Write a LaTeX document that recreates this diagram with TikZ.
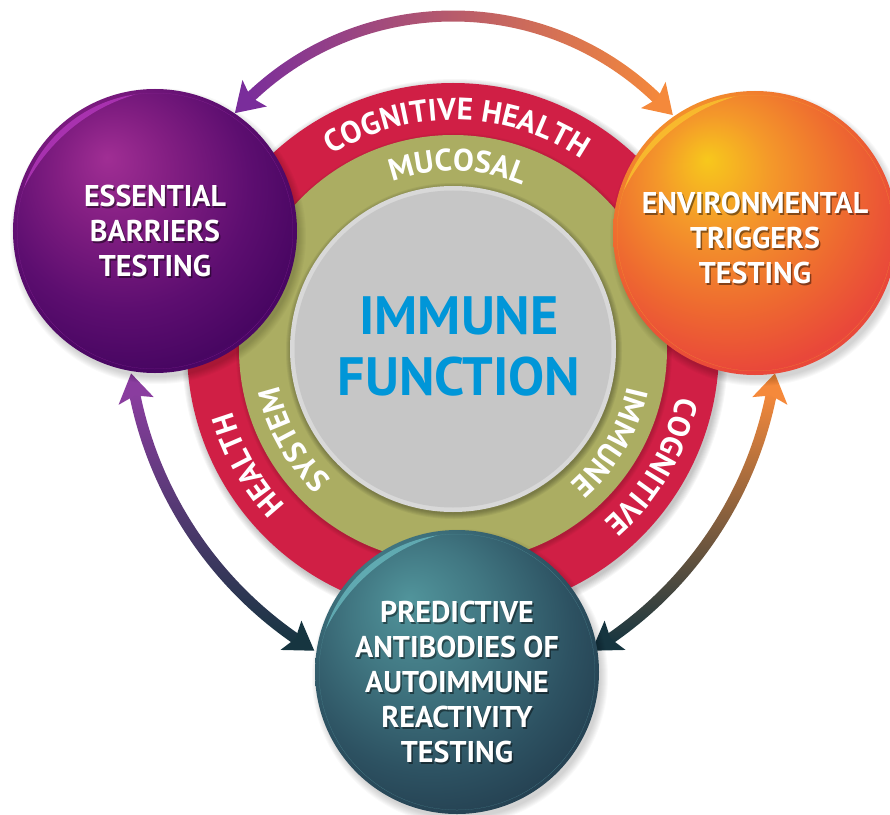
\documentclass[tikz,border=0pt]{standalone}
\usepackage{fontspec}
\newfontfamily\labelfont{PT Sans}
\usetikzlibrary{positioning,decorations.text}

\definecolor{ringred}{HTML}{D01F45}
\definecolor{ringolive}{HTML}{ABAD62}
\definecolor{rimgrey}{HTML}{D8D8D8}
\definecolor{coregrey}{HTML}{C6C6C6}
\definecolor{immuneblue}{HTML}{0096D8}
\definecolor{arrowpurple}{HTML}{7A2D9B}
\definecolor{arroworange}{HTML}{F5893B}
\definecolor{arrowplum}{HTML}{8A3D9F}
\definecolor{arrowdark}{HTML}{163540}
\definecolor{purpleA}{HTML}{A02E94}
\definecolor{purpleB}{HTML}{821E82}
\definecolor{purpleC}{HTML}{5D0E70}
\definecolor{purpleD}{HTML}{480662}
\definecolor{purpleE}{HTML}{5E0C7D}
\definecolor{purpleF}{HTML}{6B1392}
\definecolor{orangeA}{HTML}{F7C81C}
\definecolor{orangeB}{HTML}{F4982A}
\definecolor{orangeC}{HTML}{EE6930}
\definecolor{orangeD}{HTML}{E9473A}
\definecolor{orangeE}{HTML}{EC5838}
\definecolor{orangeF}{HTML}{F5A23C}
\definecolor{tealA}{HTML}{51949B}
\definecolor{tealB}{HTML}{417782}
\definecolor{tealC}{HTML}{2D5262}
\definecolor{tealD}{HTML}{223B4C}
\definecolor{tealE}{HTML}{2A4C62}
\definecolor{purplegloss}{HTML}{B036B8}
\definecolor{orangegloss}{HTML}{F9C02E}
\definecolor{tealgloss}{HTML}{66B3BA}

\pgfdeclareradialshading{purpleball}{\pgfpoint{-8.5bp}{13bp}}{color(0bp)=(purpleA); color(10bp)=(purpleB); color(22bp)=(purpleC); color(31bp)=(purpleD); color(38bp)=(purpleE); color(43bp)=(purpleF); color(60bp)=(purpleF)}
\pgfdeclareradialshading{orangeball}{\pgfpoint{-8.5bp}{13bp}}{color(0bp)=(orangeA); color(10bp)=(orangeB); color(22bp)=(orangeC); color(31bp)=(orangeD); color(37bp)=(orangeE); color(42bp)=(orangeF); color(60bp)=(orangeF)}
\pgfdeclareradialshading{tealball}{\pgfpoint{-8.5bp}{13bp}}{color(0bp)=(tealA); color(12bp)=(tealB); color(25bp)=(tealC); color(35bp)=(tealD); color(42bp)=(tealE); color(60bp)=(tealE)}

\newcommand{\ringfont}{\color{white}\labelfont\bfseries\fontsize{31}{31}\selectfont}

% gradient arc with a head at both ends: centre, radius, start, end, colours, shading
\newcommand{\gradarrow}[7]{%
  \begin{scope}[shift={#1}]
    \pgfmathsetmacro{\hd}{sign(#4-#3)*28/#2*180/pi}
    \pgfmathsetmacro{\bs}{#3+0.7*\hd}
    \pgfmathsetmacro{\be}{#4-0.7*\hd}
    \shade[#7] ({\bs}:{#2+5.5}) arc[start angle=\bs, end angle=\be, radius=#2+5.5]
      -- ({\be}:{#2-5.5}) arc[start angle=\be, end angle=\bs, radius=#2-5.5] -- cycle;
    \fill[#5] (#3:#2) -- ({#3+\hd}:{#2+18}) -- ({#3+0.8*\hd}:#2) -- ({#3+\hd}:{#2-18}) -- cycle;
    \fill[#6] (#4:#2) -- ({#4-\hd}:{#2+18}) -- ({#4-0.8*\hd}:#2) -- ({#4-\hd}:{#2-18}) -- cycle;
  \end{scope}}

\tikzset{
    ball/.style={circle,shade,minimum size=284pt,inner sep=0pt},
    balltext/.style={align=center,text=white,font=\labelfont\bfseries\fontsize{30}{35}\selectfont},
    ballshadow/.style={balltext,text=black,opacity=0.45},
    centretext/.style={align=center,text=immuneblue,font=\labelfont\bfseries\fontsize{54}{61}\selectfont},
    ringtext/.style={decorate,decoration={text along path,text align=center,text={|\ringfont|#1}}}
}

\begin{document}
\begin{tikzpicture}[x=1pt,y=1pt]

    \useasboundingbox (-453,-465) rectangle (437,349);

    % arrows between the three tests
    \gradarrow{(0,39.5)}{293.5}{138}{41.5}{arrowpurple}{arroworange}{left color=arrowpurple,right color=arroworange}
    \gradarrow{(65,32)}{391}{188.3}{238.6}{arrowplum}{arrowdark}{top color=arrowplum,bottom color=arrowdark}
    \gradarrow{(-65,32)}{391}{-8.3}{-58.6}{arroworange}{arrowdark}{top color=arroworange,bottom color=arrowdark}

    % rings
    \foreach \k in {1,...,8}
        \fill[black,opacity=0.03] (2,-3) circle ({265+\k});
    \fill[ringred] (0,0) circle (266);
    \foreach \k in {1,...,5}
        \fill[black,opacity=0.03] (1,-2) circle ({213+\k});
    \fill[ringolive] (0,0) circle (214);
    \foreach \k in {1,...,6}
        \fill[black,opacity=0.05] (1,-2) circle ({162+\k});
    \fill[rimgrey] (0,0) circle (163);
    \fill[coregrey] (0,0) circle (158.5);

    \path[ringtext={COGNITIVE HEALTH}] (150:229) arc[start angle=150,end angle=28,radius=229];
    \path[ringtext={HEALTH}]           (269.5:229) arc[start angle=269.5,end angle=149.5,radius=229];
    \path[ringtext={COGNITIVE}]        (29.5:229) arc[start angle=29.5,end angle=-90.5,radius=229];
    \path[ringtext={MUCOSAL}]          (148.5:178) arc[start angle=148.5,end angle=28.5,radius=178];
    \path[ringtext={SYSTEM}]           (269.5:178) arc[start angle=269.5,end angle=149.5,radius=178];
    \path[ringtext={IMMUNE}]           (29.5:178) arc[start angle=29.5,end angle=-90.5,radius=178];

    \node[centretext] (immune) at (6,3) {IMMUNE\\FUNCTION};

    % the three tests
    \coordinate (pEssential)     at (-298,118);
    \coordinate (pEnvironmental) at (302,116);
    \coordinate (pPredictive)    at (4,-323);
    \foreach \p in {pEssential,pEnvironmental,pPredictive}
        \foreach \k in {1,...,8}
            \fill[black,opacity=0.025] ([shift={(3,-5)}]\p) circle ({140+\k});

    \node[ball,shading=purpleball] (essential)     at (pEssential)     {};
    \node[ball,shading=orangeball] (environmental) at (pEnvironmental) {};
    \node[ball,shading=tealball]   (predictive)    at (pPredictive)    {};

    \foreach \b/\g in {essential/purplegloss,environmental/orangegloss,predictive/tealgloss}{
        \begin{scope}
            \clip (\b.center) circle (138);
            \fill[\g,opacity=0.85,even odd rule] (\b.center) circle (138) ([shift={(32,-38)}]\b.center) circle (182);
        \end{scope}
    }

    \node[ballshadow] at ([shift={(1.5,-1.5)}]essential) {ESSENTIAL\\BARRIERS\\TESTING};
    \node[balltext]   at (essential) {ESSENTIAL\\BARRIERS\\TESTING};
    \node[ballshadow] at ([shift={(1.5,-6.5)}]environmental) {ENVIRONMENTAL\\TRIGGERS\\TESTING};
    \node[balltext]   at ([yshift=-5]environmental) {ENVIRONMENTAL\\TRIGGERS\\TESTING};
    \node[ballshadow] at ([shift={(1.5,-11.5)}]predictive) {PREDICTIVE\\ANTIBODIES OF\\AUTOIMMUNE\\REACTIVITY\\TESTING};
    \node[balltext]   at ([yshift=-10]predictive) {PREDICTIVE\\ANTIBODIES OF\\AUTOIMMUNE\\REACTIVITY\\TESTING};

\end{tikzpicture}
\end{document}
